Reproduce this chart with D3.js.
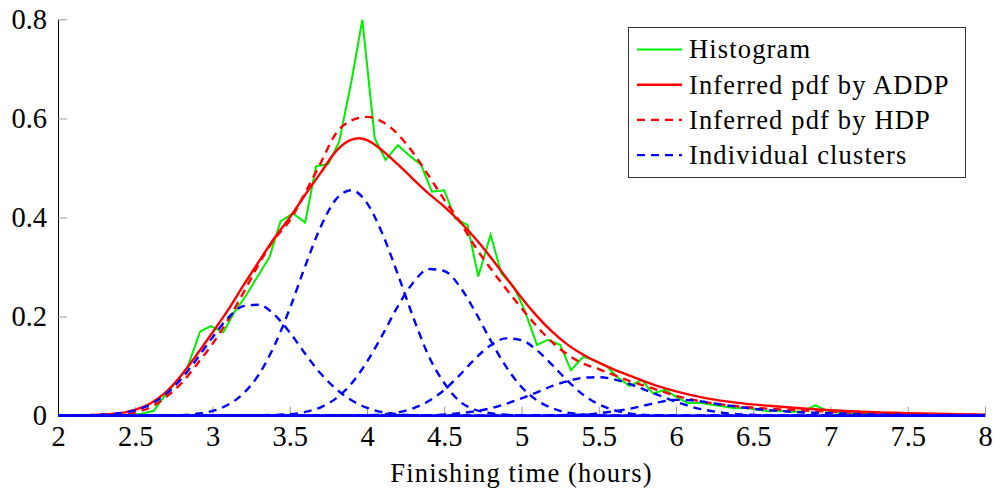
<!DOCTYPE html>
<html>
<head>
<meta charset="utf-8">
<script src="https://cdn.jsdelivr.net/npm/d3@7"></script>
<style>
  html, body { margin: 0; padding: 0; background: #fff; }
  svg { display: block; }
</style>
</head>
<body>
<svg id="chart" width="994" height="494"></svg>
<script>
// Histogram of finishing times (bin centres, hours) and its density values
const histHours = [2.02, 2.09, 2.17, 2.24, 2.32, 2.39, 2.47, 2.54, 2.62, 2.69, 2.77, 2.84, 2.92, 2.99, 3.07, 3.14,
  3.22, 3.29, 3.37, 3.44, 3.52, 3.60, 3.67, 3.75, 3.82, 3.90, 3.97, 4.05, 4.12, 4.20, 4.27, 4.35,
  4.42, 4.50, 4.57, 4.65, 4.72, 4.80, 4.87, 4.95, 5.02, 5.10, 5.17, 5.25, 5.32, 5.40, 5.47, 5.55,
  5.62, 5.70, 5.78, 5.85, 5.93, 6.00, 6.08, 6.15, 6.23, 6.30, 6.38, 6.45, 6.53, 6.60, 6.68, 6.75,
  6.83, 6.90, 6.98, 7.05, 7.13, 7.20, 7.28, 7.35, 7.43, 7.50, 7.58, 7.66, 7.73, 7.81, 7.88, 7.96];
const histDensity = [0, 0, 0, 0, 0, 0, 0.001, 0.004, 0.010, 0.040, 0.070, 0.099, 0.170, 0.181, 0.168, 0.208,
  0.244, 0.280, 0.321, 0.392, 0.408, 0.390, 0.503, 0.508, 0.553, 0.676, 0.799, 0.560, 0.516, 0.546, 0.526, 0.506,
  0.452, 0.455, 0.398, 0.385, 0.281, 0.365, 0.287, 0.260, 0.213, 0.143, 0.153, 0.143, 0.092, 0.119, 0.112, 0.100,
  0.078, 0.060, 0.072, 0.045, 0.052, 0.038, 0.025, 0.026, 0.022, 0.019, 0.015, 0.016, 0.012, 0.009, 0.010, 0.008,
  0.009, 0.021, 0.010, 0.006, 0.005, 0.004, 0.003, 0.006, 0.003, 0.002, 0.002, 0.002, 0.001, 0.001, 0.001, 0];

// Inferred density by ADDP (solid red)
const addpPdf = [[2.0, 0], [2.2, 0.001], [2.4, 0.005], [2.5, 0.012], [2.6, 0.025], [2.7, 0.048], [2.8, 0.082],
  [2.9, 0.124], [3.0, 0.168], [3.1, 0.213], [3.2, 0.263], [3.3, 0.311], [3.4, 0.358], [3.5, 0.400], [3.6, 0.446],
  [3.7, 0.490], [3.8, 0.534], [3.9, 0.557], [3.95, 0.560], [4.0, 0.556], [4.1, 0.535], [4.2, 0.507], [4.3, 0.477],
  [4.4, 0.448], [4.5, 0.422], [4.6, 0.392], [4.7, 0.358], [4.8, 0.320], [4.9, 0.279], [5.0, 0.238], [5.1, 0.201],
  [5.2, 0.169], [5.3, 0.143], [5.4, 0.123], [5.5, 0.107], [5.6, 0.093], [5.7, 0.081], [5.8, 0.069], [5.9, 0.058],
  [6.0, 0.049], [6.2, 0.035], [6.4, 0.026], [6.6, 0.020], [6.8, 0.015], [7.0, 0.011], [7.2, 0.008], [7.5, 0.005], [8.0, 0.002]];

// Inferred density by HDP (dashed red)
const hdpPdf = [[2.0, 0], [2.2, 0.001], [2.4, 0.003], [2.5, 0.007], [2.6, 0.017], [2.7, 0.038], [2.8, 0.066],
  [2.9, 0.104], [3.0, 0.145], [3.1, 0.193], [3.2, 0.248], [3.3, 0.306], [3.4, 0.356], [3.5, 0.394], [3.6, 0.450],
  [3.7, 0.510], [3.8, 0.570], [3.9, 0.596], [4.0, 0.603], [4.1, 0.593], [4.2, 0.568], [4.3, 0.530], [4.4, 0.484],
  [4.5, 0.436], [4.6, 0.392], [4.7, 0.341], [4.8, 0.297], [4.9, 0.256], [5.0, 0.217], [5.1, 0.180], [5.2, 0.148],
  [5.3, 0.123], [5.4, 0.105], [5.5, 0.094], [5.6, 0.082], [5.7, 0.070], [5.8, 0.060], [5.9, 0.050], [6.0, 0.040],
  [6.2, 0.027], [6.4, 0.019], [6.6, 0.014], [6.8, 0.011], [7.0, 0.008], [7.2, 0.006], [7.5, 0.004], [8.0, 0.002]];

// Individual mixture components (dashed blue)
const cluster1 = [[2.0, 0], [2.2, 0.001], [2.4, 0.005], [2.5, 0.011], [2.6, 0.023], [2.7, 0.044], [2.8, 0.075],
  [2.9, 0.115], [3.0, 0.158], [3.1, 0.197], [3.2, 0.221], [3.3, 0.224], [3.4, 0.204], [3.5, 0.168], [3.6, 0.125],
  [3.7, 0.085], [3.8, 0.054], [3.9, 0.031], [4.0, 0.016], [4.1, 0.007], [4.2, 0.003], [4.4, 0], [8.0, 0]];
const cluster2 = [[2.0, 0], [2.8, 0.001], [2.9, 0.004], [3.0, 0.0095], [3.1, 0.022], [3.2, 0.045], [3.3, 0.083],
  [3.4, 0.141], [3.5, 0.216], [3.6, 0.302], [3.7, 0.381], [3.8, 0.437], [3.9, 0.455], [4.0, 0.429], [4.1, 0.367],
  [4.2, 0.285], [4.3, 0.198], [4.4, 0.120], [4.5, 0.066], [4.6, 0.029], [4.7, 0.012], [4.8, 0.005], [4.9, 0.002],
  [5.1, 0], [8.0, 0]];
const cluster3 = [[2.0, 0], [3.3, 0.001], [3.5, 0.003], [3.6, 0.0076], [3.7, 0.017], [3.8, 0.035], [3.9, 0.065],
  [4.0, 0.109], [4.1, 0.163], [4.2, 0.221], [4.3, 0.269], [4.4, 0.296], [4.5, 0.292], [4.6, 0.261], [4.7, 0.210],
  [4.8, 0.152], [4.9, 0.099], [5.0, 0.058], [5.1, 0.031], [5.2, 0.015], [5.3, 0.006], [5.4, 0.0025], [5.6, 0], [8.0, 0]];
const cluster4 = [[2.0, 0], [4.0, 0.001], [4.1, 0.0026], [4.2, 0.0066], [4.3, 0.015], [4.4, 0.0295], [4.5, 0.052],
  [4.6, 0.082], [4.7, 0.115], [4.8, 0.142], [4.9, 0.156], [5.0, 0.1525], [5.1, 0.132], [5.2, 0.102], [5.3, 0.070],
  [5.4, 0.042], [5.5, 0.023], [5.6, 0.011], [5.7, 0.0046], [5.8, 0.0017], [6.0, 0], [8.0, 0]];
const cluster5 = [[2.0, 0], [4.4, 0.001], [4.6, 0.005], [4.7, 0.009], [4.8, 0.015], [4.9, 0.024], [5.0, 0.035],
  [5.1, 0.047], [5.2, 0.060], [5.3, 0.070], [5.4, 0.0766], [5.5, 0.0778], [5.6, 0.0733], [5.7, 0.064], [5.8, 0.052],
  [5.9, 0.040], [6.0, 0.028], [6.1, 0.018], [6.2, 0.011], [6.3, 0.006], [6.4, 0.003], [6.6, 0.001], [6.8, 0], [8.0, 0]];
const cluster6 = [[2.0, 0], [5.2, 0.001], [5.4, 0.002], [5.5, 0.005], [5.6, 0.009], [5.7, 0.014], [5.8, 0.021],
  [5.9, 0.028], [6.0, 0.032], [6.1, 0.031], [6.2, 0.027], [6.3, 0.022], [6.4, 0.018], [6.5, 0.014], [6.6, 0.011],
  [6.7, 0.009], [6.8, 0.007], [6.9, 0.006], [7.0, 0.005], [7.2, 0.003], [7.4, 0.002], [7.6, 0.001], [8.0, 0]];
// Components with negligible weight lie along zero
const emptyClusters = [[2.0, 0], [8.0, 0]];

const xTicks = [2, 2.5, 3, 3.5, 4, 4.5, 5, 5.5, 6, 6.5, 7, 7.5, 8];
const yTicks = [0, 0.2, 0.4, 0.6, 0.8];
const legendLabels = ["Histogram", "Inferred pdf by ADDP", "Inferred pdf by HDP", "Individual clusters"];
const xTitle = "Finishing time (hours)";

const serif = "'Liberation Serif', 'Times New Roman', Times, 'DejaVu Serif', serif";
const svg = d3.select("#chart");
const plotLeft = 58, plotRight = 985, plotTop = 19.3, plotBottom = 415.7;

const x = d3.scaleLinear().domain([2, 8]).range([plotLeft, plotRight]);
const y = d3.scaleLinear().domain([0, 0.8]).range([plotBottom, plotTop]);

const tickFmt = d => String(d);

// Axes: inward gray ticks, black axis lines on left and bottom only
const gx = svg.append("g").attr("transform", `translate(0,${plotBottom})`)
  .call(d3.axisBottom(x).tickValues(xTicks).tickFormat(tickFmt).tickSizeInner(-9).tickSizeOuter(0).tickPadding(10));
const gy = svg.append("g").attr("transform", `translate(${plotLeft},0)`)
  .call(d3.axisLeft(y).tickValues(yTicks).tickFormat(tickFmt).tickSizeInner(-9).tickSizeOuter(0).tickPadding(11));

[gx, gy].forEach(g => {
  g.attr("font-family", serif).attr("font-size", 28.5);
  g.select(".domain").attr("stroke", "#000").attr("stroke-width", 1);
  g.selectAll(".tick line").attr("stroke", "#999").attr("stroke-width", 1);
  g.selectAll(".tick text").attr("fill", "#000");
});

svg.append("clipPath").attr("id", "plotclip")
  .append("rect").attr("x", plotLeft).attr("y", 0)
  .attr("width", plotRight - plotLeft).attr("height", plotBottom + 2);
const plot = svg.append("g").attr("clip-path", "url(#plotclip)");

const smooth = d3.line().x(d => x(d[0])).y(d => y(d[1])).curve(d3.curveMonotoneX);
const straight = d3.line().x(d => x(d[0])).y(d => y(d[1]));

const histPoints = histHours.map((h, i) => [h, histDensity[i]]);
plot.append("path").datum(histPoints).attr("d", straight)
  .attr("fill", "none").attr("stroke", "#00ee00").attr("stroke-width", 2).attr("stroke-linejoin", "miter");

plot.append("path").datum(addpPdf).attr("d", smooth)
  .attr("fill", "none").attr("stroke", "#ff0000").attr("stroke-width", 2.4);

plot.append("path").datum(hdpPdf).attr("d", smooth)
  .attr("fill", "none").attr("stroke", "#ff0000").attr("stroke-width", 2.4).attr("stroke-dasharray", "8,6");

plot.append("path").datum(emptyClusters).attr("d", straight)
  .attr("fill", "none").attr("stroke", "#0000ff").attr("stroke-width", 2.6);

[cluster1, cluster2, cluster3, cluster4, cluster5, cluster6].forEach((c, i) => {
  plot.append("path").datum(c).attr("d", smooth)
    .attr("fill", "none").attr("stroke", "#0000ff").attr("stroke-width", 2.4)
    .attr("stroke-dasharray", "8,6").attr("stroke-dashoffset", i * 3);
});

// Axis title
svg.append("text").attr("x", (plotLeft + plotRight) / 2).attr("y", 482)
  .attr("text-anchor", "middle").attr("font-size", 26.5).attr("letter-spacing", 1.15)
  .attr("font-family", serif).attr("fill", "#000").text(xTitle);

// Legend
const legend = svg.append("g").attr("font-family", serif).attr("font-size", 26.5).attr("letter-spacing", 1.15);
legend.append("rect").attr("x", 628.5).attr("y", 27.5).attr("width", 337).attr("height", 150)
  .attr("fill", "#fff").attr("stroke", "#333").attr("stroke-width", 1);
const legendStyles = [
  { color: "#00ee00", dash: null, width: 2 },
  { color: "#ff0000", dash: null, width: 2.4 },
  { color: "#ff0000", dash: "8,6", width: 2.4 },
  { color: "#0000ff", dash: "8,6", width: 2.4 }
];
legendLabels.forEach((lab, i) => {
  const ly = 49.5 + i * 35.2;
  legend.append("line").attr("x1", 637).attr("x2", 682).attr("y1", ly).attr("y2", ly)
    .attr("stroke", legendStyles[i].color).attr("stroke-width", legendStyles[i].width)
    .attr("stroke-dasharray", legendStyles[i].dash);
  legend.append("text").attr("x", 689).attr("y", ly + 8.8).attr("fill", "#000").text(lab);
});
</script>
</body>
</html>
